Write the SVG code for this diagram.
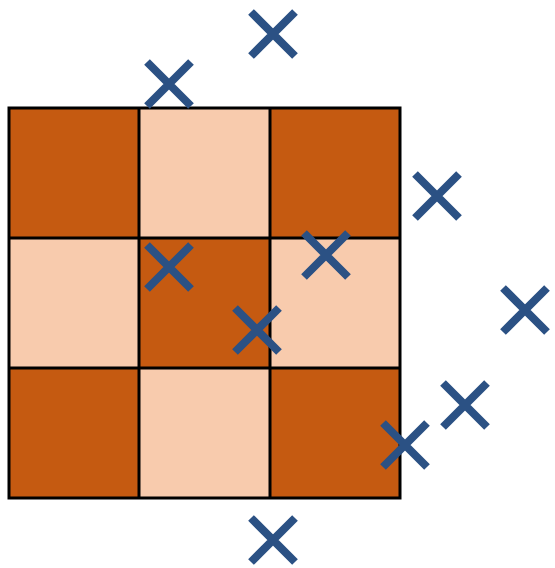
<svg xmlns="http://www.w3.org/2000/svg" width="555" height="568" viewBox="0 0 555 568">
<style>
.d{fill:#C55A11}
.l{fill:#F8CBAD}
.g{stroke:#000;stroke-width:3;fill:none}
.x{stroke:#2B5184;stroke-width:8;fill:none}
</style>
<defs>
<path id="cross" class="x" d="M-22,-22L22,22M22,-22L-22,22"/>
</defs>
<g id="board">
<rect class="d" x="9" y="108" width="130" height="130"/>
<rect class="l" x="139" y="108" width="131" height="130"/>
<rect class="d" x="270" y="108" width="130" height="130"/>
<rect class="l" x="9" y="238" width="130" height="130"/>
<rect class="d" x="139" y="238" width="131" height="130"/>
<rect class="l" x="270" y="238" width="130" height="130"/>
<rect class="d" x="9" y="368" width="130" height="130"/>
<rect class="l" x="139" y="368" width="131" height="130"/>
<rect class="d" x="270" y="368" width="130" height="130"/>
<path class="g" d="M9,108H400V498H9Z M139,108V498 M270,108V498 M9,238H400 M9,368H400"/>
</g>
<g id="crosses">
<use href="#cross" x="273" y="34"/>
<use href="#cross" x="169" y="84"/>
<use href="#cross" x="437" y="196"/>
<use href="#cross" x="525" y="310"/>
<use href="#cross" x="169" y="267"/>
<use href="#cross" x="326" y="255"/>
<use href="#cross" x="257" y="330"/>
<use href="#cross" x="465" y="405"/>
<use href="#cross" x="405" y="445"/>
<use href="#cross" x="273" y="540"/>
</g>
</svg>
